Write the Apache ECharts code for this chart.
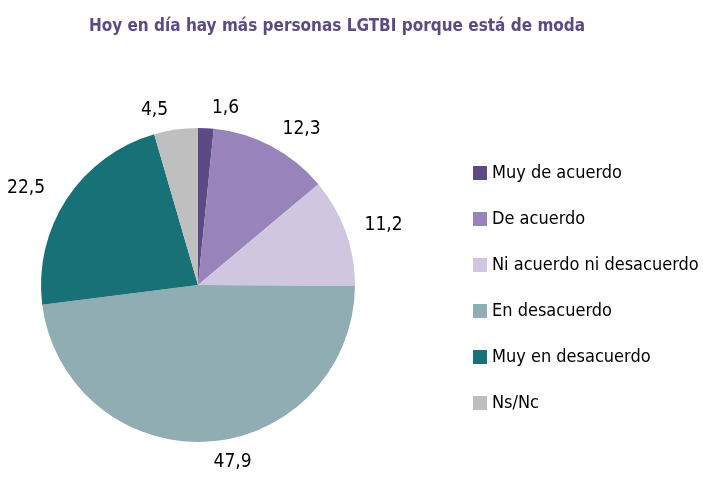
<!DOCTYPE html>
<html>
<head>
<meta charset="utf-8">
<script src="https://cdn.jsdelivr.net/npm/echarts@6/dist/echarts.min.js"></script>
<style>
  html, body { margin: 0; padding: 0; background: #fff; }
  #chart { width: 703px; height: 477px; }
</style>
</head>
<body>
<div id="chart"></div>
<script>
// datos de la encuesta (%)
var categories = ['Muy de acuerdo', 'De acuerdo', 'Ni acuerdo ni desacuerdo', 'En desacuerdo', 'Muy en desacuerdo', 'Ns/Nc']
var values = [1.6, 12.3, 11.2, 47.9, 22.5, 4.5]
var colors = ['#5c4a85', '#9883ba', '#d0c6e0', '#8fadb3', '#177176', '#bfbfbf']

var font = '"DejaVu Sans Condensed", "Liberation Sans Narrow", sans-serif'

var chart = echarts.init(document.getElementById('chart'))

var pieData = categories.map(function (name, i) {
  return { name: name, value: values[i] }
})

chart.setOption({
  animation: false,
  color: colors,
  title: {
    text: 'Hoy en día hay más personas LGTBI porque está de moda',
    left: 332,
    top: 13,
    textAlign: 'center',
    textStyle: {
      color: '#5c4a85',
      fontFamily: font,
      fontWeight: 'bold',
      fontSize: 17
    }
  },
  legend: {
    orient: 'vertical',
    left: 468,
    top: 159,
    itemWidth: 14,
    itemHeight: 14,
    itemGap: 28,
    icon: 'rect',
    textStyle: {
      color: '#000',
      fontFamily: font,
      fontSize: 18
    },
    data: categories
  },
  series: [
    {
      type: 'pie',
      center: [198, 285],
      radius: 157,
      startAngle: 90,
      clockwise: true,
      data: pieData,
      itemStyle: { borderWidth: 0 },
      label: {
        show: true,
        position: 'outside',
        overflow: 'none',
        color: '#000',
        fontFamily: font,
        fontSize: 19,
        formatter: function (p) {
          return p.value.toFixed(1).replace('.', ',')
        }
      },
      labelLine: { show: false, length: 20, length2: 0 }
    }
  ]
})
</script>
</body>
</html>
